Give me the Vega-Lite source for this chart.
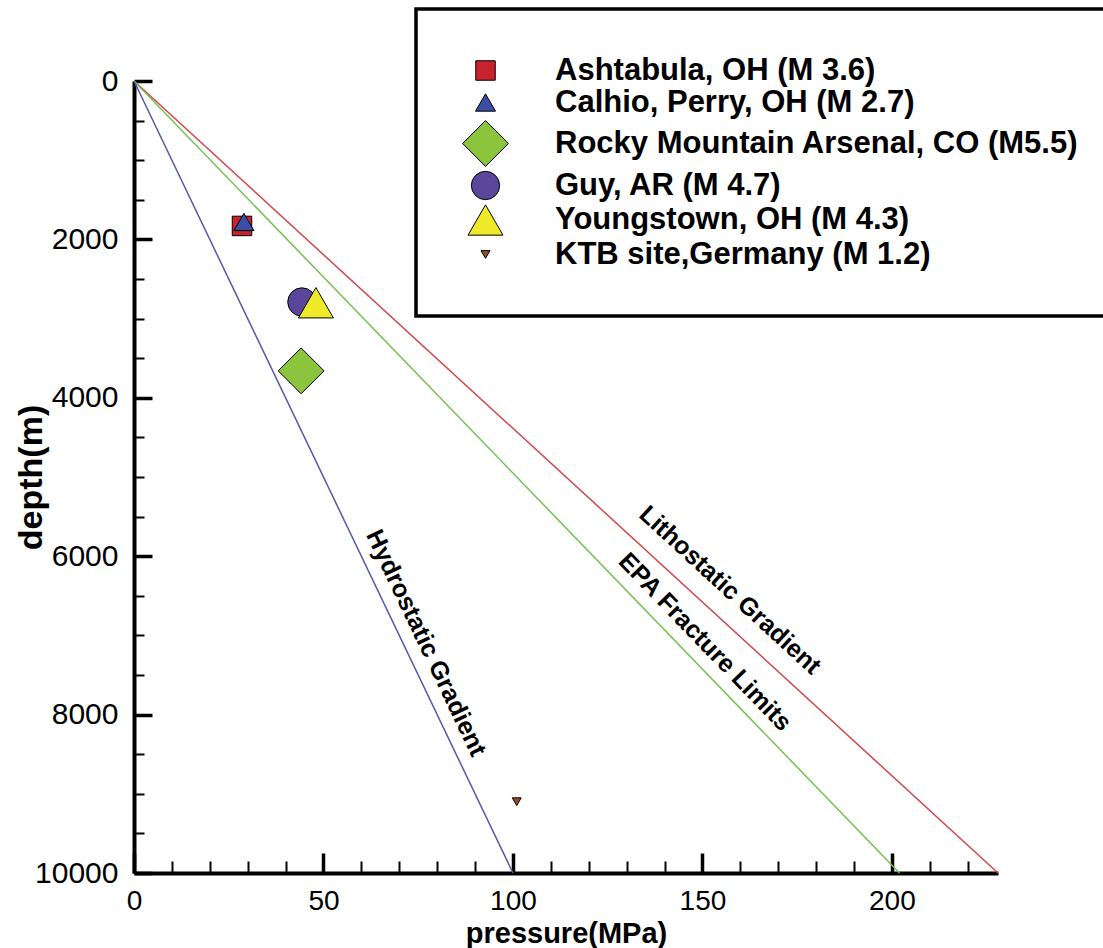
{
  "$schema": "https://vega.github.io/schema/vega-lite/v6.json",
  "width": 864,
  "height": 792,
  "autosize": {"type": "none"},
  "padding": {"left": 134, "top": 81, "right": 105, "bottom": 75},
  "background": "white",
  "config": {
    "view": {"stroke": null},
    "font": "Liberation Sans",
    "legend": {"strokeWidth": 3.5}
  },
  "datasets": {
    "gradients": [
      {"gradient": "Lithostatic Gradient", "pressure": 0, "depth": 0},
      {"gradient": "Lithostatic Gradient", "pressure": 228, "depth": 10000},
      {"gradient": "EPA Fracture Limits", "pressure": 0, "depth": 0},
      {"gradient": "EPA Fracture Limits", "pressure": 202, "depth": 10000},
      {"gradient": "Hydrostatic Gradient", "pressure": 0, "depth": 0},
      {"gradient": "Hydrostatic Gradient", "pressure": 100, "depth": 10000}
    ],
    "sites": [
      {"site": "Ashtabula, OH (M 3.6)", "pressure": 28.5, "depth": 1830},
      {"site": "Calhio, Perry, OH (M 2.7)", "pressure": 29, "depth": 1780},
      {"site": "Rocky Mountain Arsenal, CO (M5.5)", "pressure": 44.1, "depth": 3660},
      {"site": "Guy, AR (M 4.7)", "pressure": 44.3, "depth": 2790},
      {"site": "Youngstown, OH (M 4.3)", "pressure": 48, "depth": 2800},
      {"site": "KTB site,Germany (M 1.2)", "pressure": 101, "depth": 9100}
    ],
    "annotations": [
      {"text": "Hydrostatic Gradient", "pressure": 77.1, "depth": 7096},
      {"text": "Lithostatic Gradient", "pressure": 157.3, "depth": 6427},
      {"text": "EPA Fracture Limits", "pressure": 150.7, "depth": 7083}
    ]
  },
  "encoding": {
    "x": {
      "field": "pressure",
      "type": "quantitative",
      "scale": {"domain": [0, 228], "nice": false, "zero": false},
      "axis": {
        "title": "pressure(MPa)",
        "titleFontSize": 29,
        "titleFontWeight": "bold",
        "titleColor": "black",
        "titleBaseline": "alphabetic",
        "titleY": 69,
        "values": [0, 10, 20, 30, 40, 50, 60, 70, 80, 90, 100, 110, 120, 130, 140, 150, 160, 170, 180, 190, 200, 210, 220],
        "format": "d",
        "labelExpr": "datum.value % 50 === 0 ? datum.label : ''",
        "labelFontSize": 28,
        "labelColor": "black",
        "labelPadding": 34,
        "labelOverlap": false,
        "labelFlush": false,
        "labelBound": false,
        "grid": false,
        "domainColor": "black",
        "domainWidth": 4,
        "tickColor": "black",
        "tickSize": {"condition": {"test": "datum.value % 50 === 0", "value": -20}, "value": -12},
        "tickWidth": {"condition": {"test": "datum.value % 50 === 0", "value": 3.5}, "value": 2}
      }
    },
    "y": {
      "field": "depth",
      "type": "quantitative",
      "scale": {"domain": [0, 10000], "reverse": true, "nice": false, "zero": false},
      "axis": {
        "title": "depth(m)",
        "titleFontSize": 34,
        "titleFontWeight": "bold",
        "titleColor": "black",
        "titleAngle": -90,
        "titleAlign": "center",
        "titleBaseline": "middle",
        "titleX": -103,
        "titleY": 396,
        "values": [0, 500, 1000, 1500, 2000, 2500, 3000, 3500, 4000, 4500, 5000, 5500, 6000, 6500, 7000, 7500, 8000, 8500, 9000, 9500, 10000],
        "format": "d",
        "labelExpr": "datum.value % 2000 === 0 ? datum.label : ''",
        "labelFontSize": 30,
        "labelColor": "black",
        "labelPadding": 34,
        "labelOverlap": false,
        "labelFlush": false,
        "labelBound": false,
        "grid": false,
        "domainColor": "black",
        "domainWidth": 4,
        "tickColor": "black",
        "tickSize": {"condition": {"test": "datum.value % 2000 === 0", "value": -18}, "value": -10},
        "tickWidth": {"condition": {"test": "datum.value % 2000 === 0", "value": 3.5}, "value": 2}
      }
    }
  },
  "layer": [
    {
      "data": {"name": "gradients"},
      "mark": {"type": "line", "strokeWidth": 1.5, "clip": false},
      "encoding": {
        "stroke": {
          "field": "gradient",
          "type": "nominal",
          "scale": {
            "domain": ["Lithostatic Gradient", "EPA Fracture Limits", "Hydrostatic Gradient"],
            "range": ["#d2464c", "#74c050", "#5558aa"]
          },
          "legend": null
        },
        "detail": {"field": "gradient"}
      }
    },
    {
      "data": {"name": "sites"},
      "mark": {"type": "point", "filled": true, "opacity": 1, "stroke": "black", "strokeWidth": 1},
      "encoding": {
        "fill": {
          "field": "site",
          "type": "nominal",
          "scale": {
            "domain": ["Ashtabula, OH (M 3.6)", "Calhio, Perry, OH (M 2.7)", "Rocky Mountain Arsenal, CO (M5.5)", "Guy, AR (M 4.7)", "Youngstown, OH (M 4.3)", "KTB site,Germany (M 1.2)"],
            "range": ["#c8222e", "#3b4ea6", "#8cc43e", "#5a479c", "#eeea2a", "#9a4a28"]
          },
          "legend": {
            "title": null,
            "orient": "none",
            "legendX": 282,
            "legendY": -72,
            "padding": 46,
            "strokeColor": "black",
            "fillColor": "white",
            "labelFont": "Liberation Sans",
            "labelFontSize": 31,
            "labelFontWeight": "bold",
            "labelColor": "black",
            "labelOffset": 46,
            "labelLimit": 0,
            "rowPadding": 0,
            "symbolStrokeColor": "black",
            "symbolStrokeWidth": 1,
            "symbolOpacity": 1
          }
        },
        "shape": {
          "field": "site",
          "type": "nominal",
          "scale": {
            "domain": ["Ashtabula, OH (M 3.6)", "Calhio, Perry, OH (M 2.7)", "Rocky Mountain Arsenal, CO (M5.5)", "Guy, AR (M 4.7)", "Youngstown, OH (M 4.3)", "KTB site,Germany (M 1.2)"],
            "range": ["square", "triangle-up", "diamond", "circle", "triangle-up", "triangle-down"]
          }
        },
        "size": {
          "field": "site",
          "type": "nominal",
          "scale": {
            "type": "ordinal",
            "domain": ["Ashtabula, OH (M 3.6)", "Calhio, Perry, OH (M 2.7)", "Rocky Mountain Arsenal, CO (M5.5)", "Guy, AR (M 4.7)", "Youngstown, OH (M 4.3)", "KTB site,Germany (M 1.2)"],
            "range": [380, 400, 2100, 800, 1225, 80]
          }
        }
      }
    },
    {
      "data": {"name": "annotations"},
      "transform": [{"filter": "datum.text === 'Hydrostatic Gradient'"}],
      "mark": {"type": "text", "angle": 64.5, "align": "center", "baseline": "middle", "fontSize": 25, "fontWeight": "bold", "color": "black"},
      "encoding": {"text": {"field": "text"}}
    },
    {
      "data": {"name": "annotations"},
      "transform": [{"filter": "datum.text === 'Lithostatic Gradient'"}],
      "mark": {"type": "text", "angle": 42.5, "align": "center", "baseline": "middle", "fontSize": 25, "fontWeight": "bold", "color": "black"},
      "encoding": {"text": {"field": "text"}}
    },
    {
      "data": {"name": "annotations"},
      "transform": [{"filter": "datum.text === 'EPA Fracture Limits'"}],
      "mark": {"type": "text", "angle": 46, "align": "center", "baseline": "middle", "fontSize": 25, "fontWeight": "bold", "color": "black"},
      "encoding": {"text": {"field": "text"}}
    }
  ]
}
